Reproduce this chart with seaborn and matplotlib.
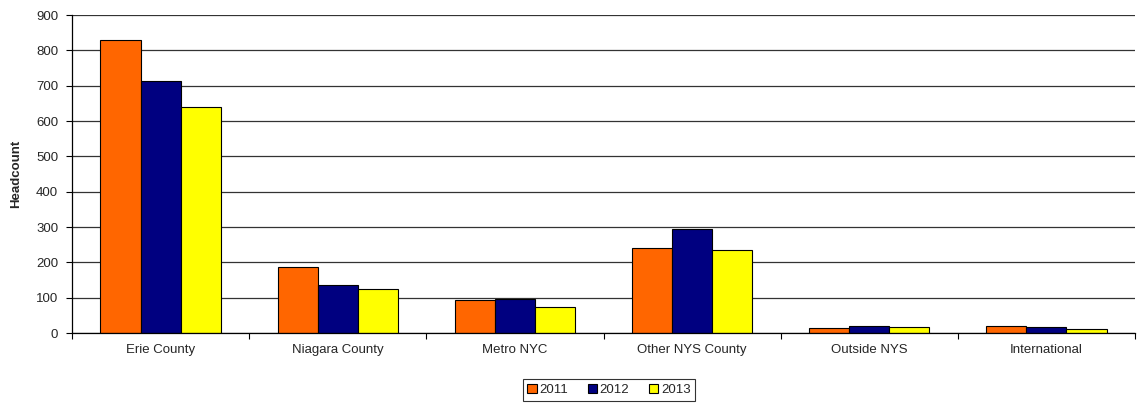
import matplotlib
matplotlib.use("Agg")
import matplotlib.pyplot as plt
import seaborn as sns
import pandas as pd
import numpy as np

categories = ["Erie County", "Niagara County", "Metro NYC", "Other NYS County", "Outside NYS", "International"]
years = ["2011", "2012", "2013"]
v2011 = [830, 186, 92, 240, 15, 19]
v2012 = [714, 136, 96, 294, 21, 17]
v2013 = [640, 124, 74, 236, 17, 10]
colors = ["#FF6600", "#000080", "#FFFF00"]

rows = []
for yr, vals in zip(years, [v2011, v2012, v2013]):
    for c, v in zip(categories, vals):
        rows.append({"Region": c, "Year": yr, "Headcount": v})
df = pd.DataFrame(rows)

sns.set_style("white")
plt.rcParams['font.family'] = ['Liberation Sans', 'DejaVu Sans']

fig = plt.figure(figsize=(11.42, 4.03), dpi=100)
ax = fig.add_axes([72/1142, 1 - 333/403, (1135-72)/1142, (333-15)/403])

sns.barplot(data=df, x="Region", y="Headcount", hue="Year", order=categories,
            hue_order=years, palette=colors, saturation=1, edgecolor="black", linewidth=0.8,
            width=0.68, gap=0, ax=ax, legend=True)

fs = 9.5
ax.set_ylim(0, 900)
ax.set_xlim(-0.5, len(categories) - 0.5)
ax.set_yticks(range(0, 901, 100))
ax.yaxis.grid(True, color="#333333", linewidth=0.9)
ax.set_axisbelow(True)
ax.set_xlabel("")
ax.set_ylabel("Headcount", fontsize=fs, fontweight="bold", labelpad=10)
ax.tick_params(axis="both", labelsize=fs, length=0)
ax.tick_params(axis="y", which="major", length=4, direction="out", left=True, color="black", width=0.8, pad=6)
ax.set_xticks(np.arange(len(categories)))
ax.set_xticklabels(categories)
ax.set_xticks(np.arange(-0.5, len(categories) - 0.4, 1), minor=True)
ax.tick_params(axis="x", which="minor", length=4, bottom=True, direction="out", color="black", width=0.8)
ax.tick_params(axis="x", which="major", pad=8)

for s in ["top", "right"]:
    ax.spines[s].set_visible(False)
for s in ["left", "bottom"]:
    ax.spines[s].set_color("black")
    ax.spines[s].set_linewidth(0.9)

leg = ax.legend(loc="center", bbox_to_anchor=(609/1142, 1 - 390/403), bbox_transform=fig.transFigure,
                ncol=3, frameon=True, fontsize=fs, handlelength=0.7, handleheight=0.7,
                handletextpad=0.2, columnspacing=1.5, borderpad=0.35, fancybox=False)
leg.get_frame().set_edgecolor("black")
leg.get_frame().set_linewidth(0.8)

fig.savefig("out.png", dpi=100)
